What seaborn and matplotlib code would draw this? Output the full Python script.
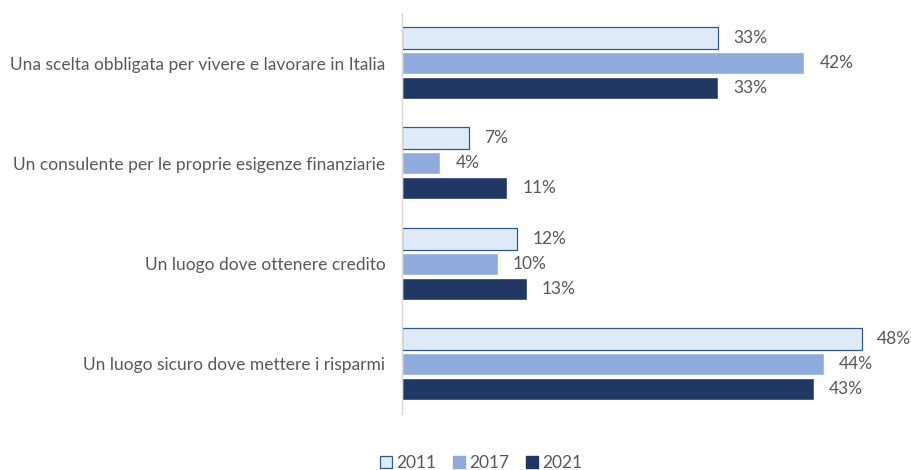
import matplotlib
matplotlib.use("Agg")
import matplotlib.pyplot as plt
from matplotlib.patches import Patch
import seaborn as sns
import pandas as pd

categories = [
    "Una scelta obbligata per vivere e lavorare in Italia",
    "Un consulente per le proprie esigenze finanziarie",
    "Un luogo dove ottenere credito",
    "Un luogo sicuro dove mettere i risparmi",
]
years = ["2011", "2017", "2021"]
values_2011 = [33, 7, 12, 48]
values_2017 = [42, 4, 10, 44]
values_2021 = [33, 11, 13, 43]

colors = ["#DEEAF6", "#8FAADC", "#1F3864"]
edge_2011 = "#2E5C8A"
text_color = "#595959"
fs = 12.5

rows = []
for year, vals in zip(years, [values_2011, values_2017, values_2021]):
    for cat, v in zip(categories, vals):
        rows.append({"categoria": cat, "anno": year, "valore": v})
df = pd.DataFrame(rows)

sns.set_theme(style="white")
plt.rcParams["font.family"] = ["Lato", "DejaVu Sans"]

fig = plt.figure(figsize=(9.12, 4.70), dpi=100)
ax = fig.add_axes([402 / 912, 56 / 470, 479 / 912, 401 / 470])

sns.barplot(
    data=df, y="categoria", x="valore", hue="anno", order=categories,
    hue_order=years, palette=colors, orient="h", width=0.75, gap=0.12,
    saturation=1, ax=ax, legend=False,
)

# outline the pale bars so they stand out on white
for patch in ax.containers[0]:
    patch.set_edgecolor(edge_2011)
    patch.set_linewidth(0.9)

for cont in ax.containers:
    ax.bar_label(cont, labels=[f"{int(v)}%" for v in cont.datavalues],
                 padding=11, fontsize=fs, color=text_color)

ax.set_xlim(0, 50)
ax.set_ylim(3.5, -0.5)
ax.set_xlabel("")
ax.set_ylabel("")
ax.set_xticks([])
ax.tick_params(axis="y", length=0, pad=12, labelsize=fs, labelcolor=text_color)
for side in ["top", "right", "bottom"]:
    ax.spines[side].set_visible(False)
ax.spines["left"].set_color("#D9D9D9")
ax.spines["left"].set_linewidth(1.0)

handles = [
    Patch(facecolor=colors[0], edgecolor=edge_2011, linewidth=0.9, label=years[0]),
    Patch(facecolor=colors[1], edgecolor=colors[1], label=years[1]),
    Patch(facecolor=colors[2], edgecolor=colors[2], label=years[2]),
]
fig.legend(handles=handles, loc="center", bbox_to_anchor=(481 / 912, 1 - 463 / 470),
           ncol=3, frameon=False, fontsize=fs, labelcolor=text_color,
           handlelength=0.7, handleheight=0.7, handletextpad=0.2, columnspacing=1.0)

fig.savefig("out.png", dpi=100)
